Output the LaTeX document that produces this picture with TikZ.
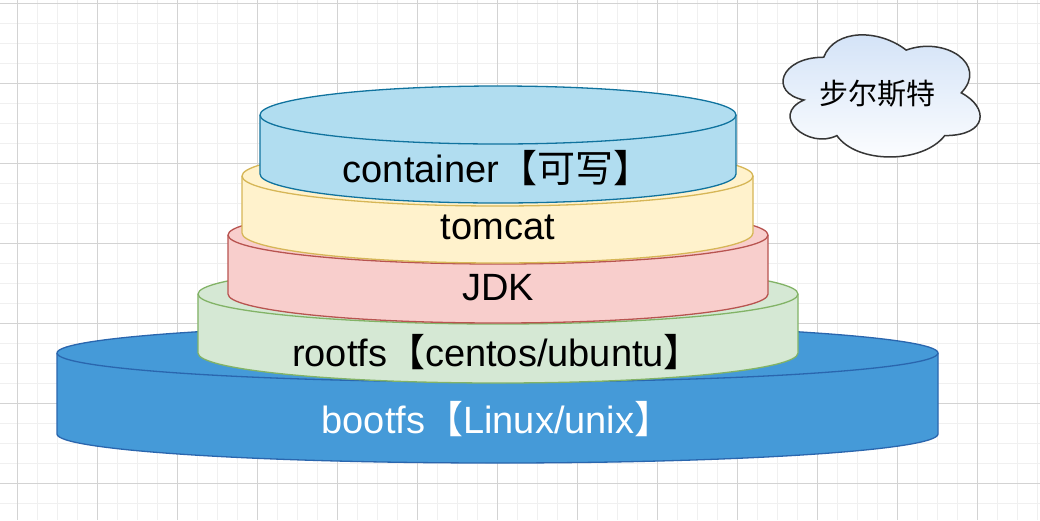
\documentclass[tikz,border=0pt]{standalone}
\usepackage{fontspec}
\setmainfont{Liberation Sans}
\newfontfamily\cjk{Noto Sans CJK SC}
\definecolor{gridminor}{HTML}{F0F0F0}
\definecolor{gridmajor}{HTML}{D3D3D3}
\definecolor{contfill}{HTML}{B1DDF0}
\definecolor{contline}{HTML}{10739E}
\definecolor{tomfill}{HTML}{FFF2CC}
\definecolor{tomline}{HTML}{D6B656}
\definecolor{jdkfill}{HTML}{F8CECC}
\definecolor{jdkline}{HTML}{B85450}
\definecolor{rootfill}{HTML}{D5E8D4}
\definecolor{rootline}{HTML}{82B366}
\definecolor{bootfill}{HTML}{459AD8}
\definecolor{bootline}{HTML}{2A66AE}
\definecolor{cloudtop}{HTML}{D2E2F7}
\definecolor{cloudline}{HTML}{363636}
\newcommand\drawcyl[7]{% cx, cyT, cyB, rx, ry, fill, stroke
  \filldraw[fill=#6,draw=#7,line width=1.3pt,line join=round]
    (#1-#4,#2) -- (#1-#4,#3)
    arc[start angle=180,end angle=0,x radius=#4,y radius=#5]
    -- (#1+#4,#2)
    arc[start angle=0,end angle=-180,x radius=#4,y radius=#5] -- cycle;
  \draw[draw=#7,line width=1.3pt]
    (#1-#4,#2) arc[start angle=180,end angle=0,x radius=#4,y radius=#5];
}
\tikzset{
  layertext/.style={anchor=base,inner sep=0pt,font=\fontsize{38}{40}\selectfont},
}
\begin{document}
\begin{tikzpicture}[x=1pt,y=-1pt]
\useasboundingbox (0,0) rectangle (1040,520);
\fill[white] (0,0) rectangle (1040,520);
% grid
\foreach \i in {0,...,51} {
  \draw[gridminor,line width=1pt] (17+20*\i,0) -- (17+20*\i,520);
}
\foreach \j in {0,...,25} {
  \draw[gridminor,line width=1pt] (0,3+20*\j) -- (1040,3+20*\j);
}
\foreach \i in {0,...,12} {
  \draw[gridmajor,line width=1pt] (17+80*\i,0) -- (17+80*\i,520);
}
\foreach \j in {0,...,6} {
  \draw[gridmajor,line width=1pt] (0,3+80*\j) -- (1040,3+80*\j);
}
% cylinders, bottom to top
\drawcyl{497.5}{353}{434}{440.5}{29}{bootfill}{bootline}
\drawcyl{498}{294}{353}{300}{30}{rootfill}{rootline}
\drawcyl{498}{235}{294}{270}{29}{jdkfill}{jdkline}
\drawcyl{497.5}{176}{233}{255.5}{30}{tomfill}{tomline}
\drawcyl{498}{115}{174}{238}{29}{contfill}{contline}
% labels
\node[layertext] (container) at (497,182) {container{\cjk 【可写】}};
\node[layertext] (tomcat) at (498,239) {tomcat};
\node[layertext] (jdk) at (498,300) {JDK};
\node[layertext] (rootfs) at (497,366) {rootfs{\cjk 【}centos/ubuntu{\cjk 】}};
\node[layertext,text=white] (bootfs) at (497,433) {bootfs{\cjk 【}Linux/unix{\cjk 】}};
% cloud
\begin{scope}[shift={(768.7,21.6)},x=220pt,y=-142.5pt]
\draw[top color=cloudtop,bottom color=white!97!cloudtop,draw=cloudline,line width=1.5pt]
  (0.25,0.25) .. controls (0.05,0.25) and (0,0.5) .. (0.16,0.55)
  .. controls (0,0.66) and (0.18,0.9) .. (0.31,0.8)
  .. controls (0.4,1) and (0.7,1) .. (0.8,0.8)
  .. controls (1,0.8) and (1,0.6) .. (0.875,0.5)
  .. controls (1,0.3) and (0.8,0.1) .. (0.625,0.2)
  .. controls (0.5,0.05) and (0.3,0.05) .. (0.25,0.25) -- cycle;
\end{scope}
\node[font=\cjk\fontsize{29}{32}\selectfont,inner sep=0pt] (cloud) at (877.5,94) {步尔斯特};
\end{tikzpicture}
\end{document}
